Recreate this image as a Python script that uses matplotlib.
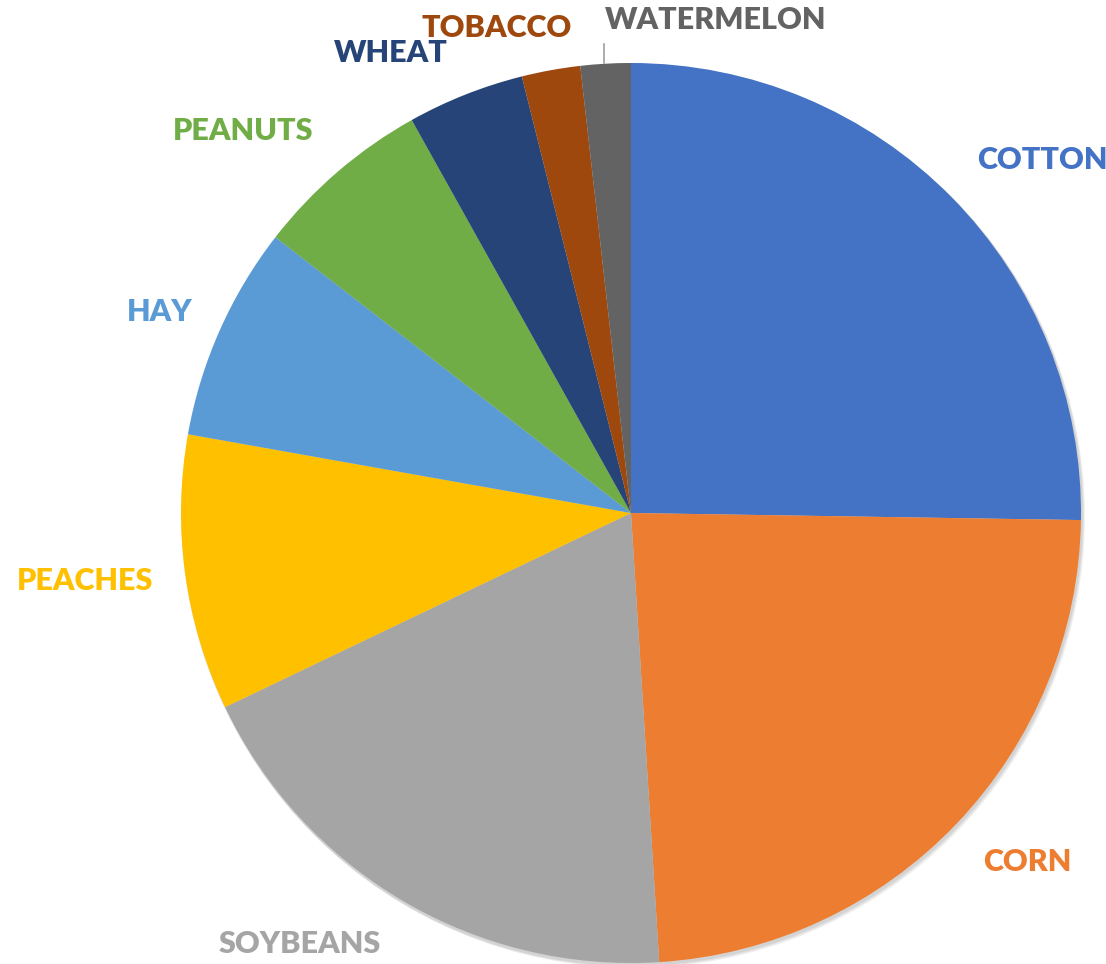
import numpy as np
import matplotlib.pyplot as plt
from matplotlib.patches import Circle

crops = ["COTTON", "CORN", "SOYBEANS", "PEACHES", "HAY", "PEANUTS", "WHEAT", "TOBACCO", "WATERMELON"]
shares = [25.25, 23.75, 18.9, 9.9, 7.7, 6.4, 4.2, 2.1, 1.8]
colors = ["#4472C4", "#ED7D31", "#A5A5A5", "#FFC000", "#5B9BD5",
          "#70AD47", "#264478", "#9E480E", "#636363"]

# label placement (pixel coords of text centre, y from top)
label_pos = [(1042, 160), (1027, 862), (300, 944), (85, 581), (160, 312),
             (243, 131), (391, 53), (497, 28), (716, 20)]

W, H = 1106, 964
fig = plt.figure(figsize=(W / 100, H / 100), dpi=100)
ax = fig.add_axes([0, 0, 1, 1])

cx, cy, r = 631, H - 513, 450
# soft drop shadow behind the pie
for i, a in enumerate([0.06, 0.06, 0.06]):
    ax.add_patch(Circle((cx + 1 + i, cy - 2 - i), r + 1, color="black", alpha=a, lw=0, zorder=0))

ax.pie(shares, colors=colors, startangle=90, counterclock=False,
       center=(cx, cy), radius=r, frame=True,
       wedgeprops=dict(linewidth=0, zorder=1))
ax.set_xlim(0, W)
ax.set_ylim(0, H)
ax.set_aspect("equal")
ax.axis("off")

for name, c, (x, y) in zip(crops, colors, label_pos):
    ax.text(x, H - y, name, color=c, fontsize=22, fontweight="heavy",
            family="Lato", ha="center", va="center")

# leader line for the thin slice
ax.plot([604, 604], [H - 63, H - 44], color="#A0A0A0", lw=1.2)

fig.savefig("out.png", dpi=100)
